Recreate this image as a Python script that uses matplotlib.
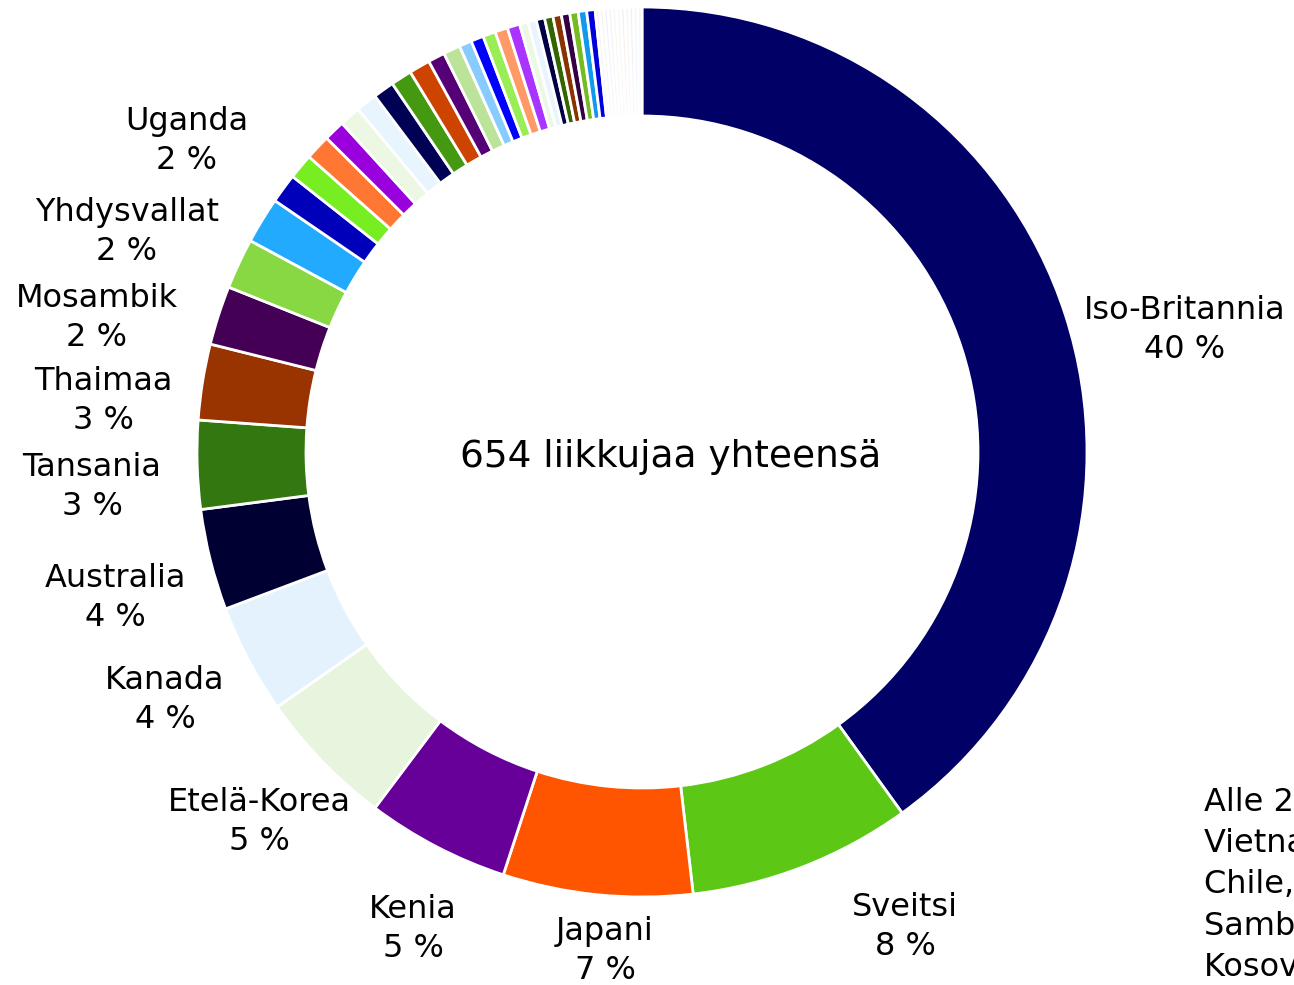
import matplotlib.pyplot as plt
import numpy as np

# maat ja liikkujien määrät (luettu kuvasta)
maat = ['Iso-Britannia', 'Sveitsi', 'Japani', 'Kenia', 'Etelä-Korea', 'Kanada',
        'Australia', 'Tansania', 'Thaimaa', 'Mosambik', 'Yhdysvallat', 'Uganda']
maarat = [262, 53, 45, 34, 33, 26, 24, 21, 18, 14, 12, 11]

# pienet maat (alle 2 %), ei nimiä kuvassa
pienet = [7, 6, 6, 5, 5, 5, 5, 5, 5, 4, 4, 3, 3, 3, 3, 3, 2, 2,
          2, 2, 2, 2, 2, 2, 2,
          1, 1, 1, 1, 1, 1, 1, 1, 1, 1, 1]

varit = ['#000066', '#5cc815', '#ff5500', '#660099', '#e8f5de', '#e3f2fd',
         '#000033', '#337711', '#993300', '#440055', '#88d844', '#22aaff',
         '#0000bb', '#77ee22', '#ff7733', '#9900dd', '#ecf7e4', '#e8f4fe',
         '#000055', '#449911', '#cc4400', '#550077', '#bbe399', '#88ccff',
         '#0000ff', '#99ee55', '#ff9966', '#aa33ff', '#ecf7e4', '#e8f4fe',
         '#000044', '#336600', '#883300', '#330044', '#77bb22', '#1199ee', '#0000dd',
         '#fbeef6', '#eef8ea', '#f4eefb', '#eef4fb', '#fbf6ee', '#eefbf6',
         '#f8eeee', '#f2f8ea', '#f2eefb', '#eef6fb', '#faf4ee']

arvot = maarat + pienet
yhteensa = sum(arvot)

W, H = 1294, 985
fig = plt.figure(figsize=(W / 100, H / 100), dpi=100)
ax = fig.add_axes([0, 0, 1, 1])

cx, cy = 642, H - 452
R = 445
leveys = 109

ax.pie(arvot, colors=varit[:len(arvot)], startangle=90, counterclock=False,
       center=(cx, cy), radius=R, frame=True,
       wedgeprops=dict(width=leveys, edgecolor='white', linewidth=2.0))
ax.set_xlim(0, W)
ax.set_ylim(0, H)
ax.axis('off')
ax.set_aspect('equal')

ax.text(671, H - 457, f'{yhteensa} liikkujaa yhteensä', fontsize=27,
        ha='center', va='center')

# nimilappujen paikat (px, ylhäältä)
lappu_x = [1185, 905, 605, 413, 259, 165, 115, 92, 103, 97, 127, 187]
lappu_y = [330, 927, 951, 929, 822, 700, 598, 487, 401, 318, 232, 141]

for nimi, n, x, y in zip(maat, maarat, lappu_x, lappu_y):
    pros = round(100 * n / yhteensa)
    ax.text(x, H - y, f'{nimi}\n{pros} %', fontsize=23, ha='center', va='center',
            linespacing=1.34)

muut = 'Alle 2 %:\nVietnam, Ruotsi,\nChile, Norja,\nSambia, Etiopia,\nKosovo, Nepal'
ax.text(1204, H - 885, muut, fontsize=23, ha='left', va='center', linespacing=1.43)

fig.savefig('out.png', dpi=100)
